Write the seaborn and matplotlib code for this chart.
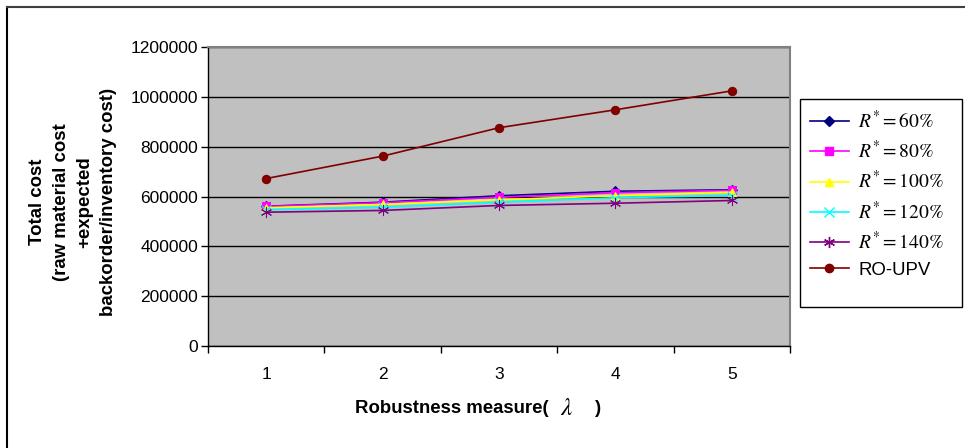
import matplotlib
matplotlib.use("Agg")
import matplotlib.pyplot as plt
import seaborn as sns
import pandas as pd
from matplotlib.lines import Line2D
from matplotlib.patches import Rectangle

# ---- data ----
lambdas = [1, 2, 3, 4, 5]
r60 = [561000, 577000, 603000, 621000, 627000]
r80 = [560000, 575000, 597000, 615000, 625000]
r100 = [555000, 568000, 587000, 603000, 617000]
r120 = [547000, 557000, 577000, 595000, 604000]
r140 = [537000, 544000, 564000, 573000, 584000]
ro_upv = [672000, 762000, 876000, 948000, 1024000]

series_names = [r"$R^{*}=60\%$", r"$R^{*}=80\%$", r"$R^{*}=100\%$",
                r"$R^{*}=120\%$", r"$R^{*}=140\%$", "RO-UPV"]
series_values = [r60, r80, r100, r120, r140, ro_upv]
y_ticks = [0, 200000, 400000, 600000, 800000, 1000000, 1200000]

# ---- styles ----
colors = ["#000080", "#FF00FF", "#FFFF00", "#00FFFF", "#800080", "#800000"]
markers = ["D", "s", "^", "x", (6, 2, 0), "o"]
msizes = [5, 6, 6, 7, 8, 6]

plt.rcParams["font.family"] = ["Liberation Sans", "DejaVu Sans"]
plt.rcParams["mathtext.fontset"] = "stix"

W, H = 965, 448
fig = plt.figure(figsize=(W/100, H/100), dpi=100)
ax = fig.add_axes([208/W, 1-346/H, 582/W, 299/H])
ax.set_facecolor("#C0C0C0")

for name, vals, c, m, ms in zip(series_names, series_values, colors, markers, msizes):
    df = pd.DataFrame({"x": lambdas, "y": vals})
    sns.lineplot(data=df, x="x", y="y", ax=ax, color=c, marker=m, markersize=ms,
                 markeredgecolor=c, markerfacecolor=c, linewidth=1.2,
                 label=name, legend=False)

ax.set_xlim(0.5, 5.5)
ax.set_ylim(0, 1200000)
ax.set_yticks(y_ticks)
ax.set_yticklabels([str(v) for v in y_ticks], fontsize=12.5)
ax.yaxis.grid(True, color="black", linewidth=1)
ax.set_axisbelow(True)
ax.set_xticks(lambdas)
ax.set_xticklabels([str(v) for v in lambdas], fontsize=12.5)
ax.set_xticks([0.5, 1.5, 2.5, 3.5, 4.5, 5.5], minor=True)
ax.tick_params(axis="x", which="major", length=0, pad=15)
ax.tick_params(axis="x", which="minor", length=5, direction="out", width=1)
ax.tick_params(axis="y", length=5, direction="out", width=1, pad=2)
ax.set_xlabel("")
ax.set_ylabel("")
for s in ["left", "bottom"]:
    ax.spines[s].set_color("black")
    ax.spines[s].set_linewidth(1)
for s in ["top", "right"]:
    ax.spines[s].set_color("#808080")
    ax.spines[s].set_linewidth(1.5)

# axis titles
fig.text(73/W, 1-202/H,
         "Total cost\n(raw material cost\n+expected\nbackorder/inventory cost)",
         rotation=90, ha="center", va="center", multialignment="center",
         fontsize=13.4, fontweight="bold", linespacing=1.5)
fig.text(549/W, 1-408/H, "Robustness measure(", ha="right", va="center",
         fontsize=13.4, fontweight="bold")
fig.text(567/W, 1-408/H, r"$\lambda$", ha="center", va="center", fontsize=18)
fig.text(598/W, 1-408/H, ")", ha="center", va="center",
         fontsize=13.4, fontweight="bold")

# legend
fig.add_artist(Rectangle((800/W, 1-307/H), 162/W, 208/H, transform=fig.transFigure,
                         facecolor="white", edgecolor="black", linewidth=1))
handles = [Line2D([], [], color=c, marker=m, markersize=ms, markeredgecolor=c,
                  markerfacecolor=c, linewidth=1.2)
           for c, m, ms in zip(colors, markers, msizes)]
leg = fig.legend(handles, series_names, loc="upper left",
                 bbox_to_anchor=(804/W, 1-104/H), borderaxespad=0,
                 frameon=False, prop={"size": 14}, handlelength=2.0,
                 labelspacing=0.42, borderpad=0.3, handletextpad=0.5)
leg.texts[-1].set_fontsize(13.4)

# figure frame lines
fig.add_artist(Line2D([7/W, 7/W], [0, 1-7/H], color="black", linewidth=1.5,
                      transform=fig.transFigure))
fig.add_artist(Line2D([7/W, 1], [1-7/H, 1-7/H], color="#404040", linewidth=1.5,
                      transform=fig.transFigure))

fig.savefig("out.png", dpi=100)
